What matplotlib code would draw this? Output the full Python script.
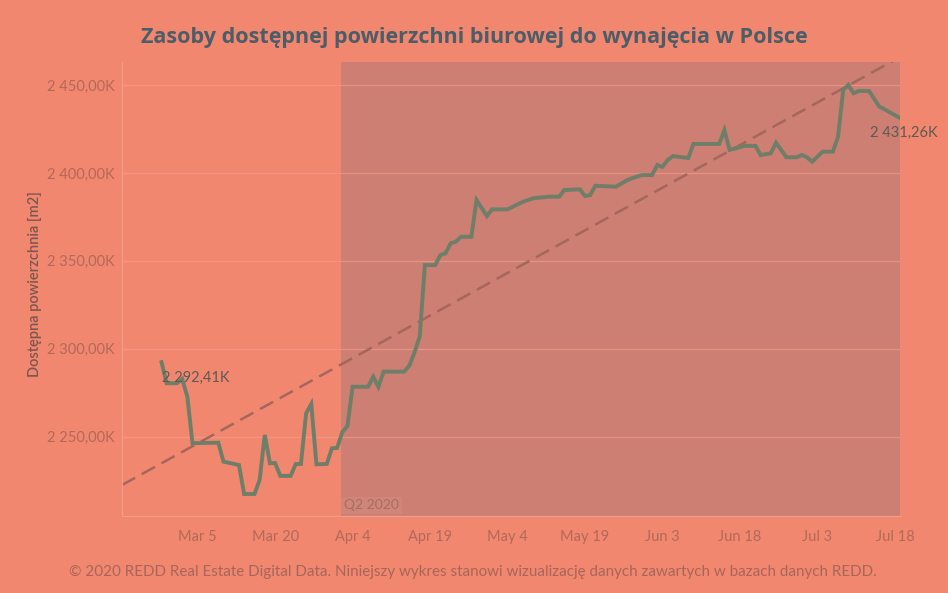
import matplotlib
matplotlib.use("Agg")
import matplotlib.pyplot as plt
import matplotlib.dates as mdates
import pandas as pd
import numpy as np

# ---- data (values in thousands of m2) ----
dates = ["2020-02-27", "2020-02-28", "2020-03-01", "2020-03-02", "2020-03-03", "2020-03-04",
         "2020-03-09", "2020-03-10", "2020-03-13", "2020-03-14", "2020-03-16", "2020-03-17",
         "2020-03-18", "2020-03-19", "2020-03-20", "2020-03-21", "2020-03-23", "2020-03-24",
         "2020-03-25", "2020-03-26", "2020-03-27", "2020-03-28", "2020-03-30", "2020-03-31",
         "2020-04-01", "2020-04-02", "2020-04-03", "2020-04-04", "2020-04-07", "2020-04-08",
         "2020-04-09", "2020-04-10", "2020-04-14", "2020-04-15", "2020-04-16", "2020-04-17",
         "2020-04-18", "2020-04-20", "2020-04-21", "2020-04-22", "2020-04-23", "2020-04-24",
         "2020-04-25", "2020-04-27", "2020-04-28", "2020-04-30", "2020-05-01", "2020-05-04",
         "2020-05-07", "2020-05-09", "2020-05-12", "2020-05-14", "2020-05-15", "2020-05-18",
         "2020-05-19", "2020-05-20", "2020-05-21", "2020-05-25", "2020-05-27", "2020-05-28",
         "2020-05-30", "2020-06-01", "2020-06-02", "2020-06-03", "2020-06-04", "2020-06-05",
         "2020-06-08", "2020-06-09", "2020-06-14", "2020-06-15", "2020-06-16", "2020-06-19",
         "2020-06-21", "2020-06-22", "2020-06-24", "2020-06-25", "2020-06-27", "2020-06-29",
         "2020-06-30", "2020-07-01", "2020-07-02", "2020-07-04", "2020-07-06", "2020-07-07",
         "2020-07-08", "2020-07-09", "2020-07-10", "2020-07-11", "2020-07-13", "2020-07-15",
         "2020-07-16", "2020-07-19"]
values = [2292.41, 2280.4, 2280.4, 2282.8, 2272.8, 2246.3,
          2246.6, 2235.8, 2233.9, 2217.4, 2217.4, 2225.4,
          2251.0, 2234.9, 2235.0, 2227.7, 2227.7, 2234.5,
          2234.5, 2263.3, 2268.6, 2234.3, 2234.5, 2243.4,
          2243.6, 2252.5, 2256.0, 2278.4, 2278.4, 2284.1,
          2278.4, 2287.0, 2287.0, 2290.5, 2298.0, 2307.0,
          2347.6, 2347.6, 2353.3, 2354.3, 2360.0, 2360.9,
          2363.7, 2363.7, 2384.6, 2375.5, 2379.3, 2379.3,
          2383.6, 2385.6, 2386.5, 2386.5, 2390.3, 2390.7,
          2386.9, 2387.4, 2392.7, 2392.2, 2395.6, 2396.9,
          2398.8, 2398.8, 2404.5, 2403.5, 2407.3, 2409.6,
          2408.5, 2416.5, 2416.5, 2424.4, 2413.1, 2415.4,
          2415.4, 2410.2, 2411.2, 2417.2, 2408.9, 2408.9,
          2410.2, 2408.9, 2406.4, 2412.1, 2412.1, 2420.6,
          2447.2, 2450.0, 2445.3, 2446.6, 2446.6, 2437.7,
          2436.2, 2431.26]

trend_dates = ["2020-03-05", "2020-07-18"]
trend_values = [2246.2, 2464.3]

y_ticks = [2250, 2300, 2350, 2400, 2450]
y_tick_labels = ["2 250,00K", "2 300,00K", "2 350,00K", "2 400,00K", "2 450,00K"]
x_ticks = ["2020-03-05", "2020-03-20", "2020-04-04", "2020-04-19", "2020-05-04",
           "2020-05-19", "2020-06-03", "2020-06-18", "2020-07-03", "2020-07-18"]
x_tick_labels = ["Mar 5", "Mar 20", "Apr 4", "Apr 19", "May 4",
                 "May 19", "Jun 3", "Jun 18", "Jul 3", "Jul 18"]

q2_start = "2020-04-01 18:00"
title = "Zasoby dostępnej powierzchni biurowej do wynajęcia w Polsce"
ylabel = "Dostępna powierzchnia [m2]"
footer = "© 2020 REDD Real Estate Digital Data. Niniejszy wykres stanowi wizualizację danych zawartych w bazach danych REDD."

# ---- styling ----
BG = "#F1876F"
SHADE = "#CC7F72"
LINE = "#6F7E68"
TREND = "#A5665D"
TICK = "#B4685A"
TITLE_C = "#4A5D68"
GRID = "#F49C8A"

plt.rcParams["font.family"] = ["Lato", "DejaVu Sans"]

fig = plt.figure(figsize=(9.48, 5.93), dpi=100, facecolor=BG)
ax = fig.add_axes([122 / 948, 1 - 516 / 593, (900 - 122) / 948, (516 - 62) / 593])
ax.set_facecolor(BG)

d = pd.to_datetime(dates)
xmin = pd.Timestamp("2020-03-05") - pd.Timedelta(days=14.65)
xmax = pd.Timestamp("2020-07-19")
ax.set_xlim(xmin, xmax)
ax.set_ylim(2204.9, 2463.1)

ax.axvspan(pd.Timestamp(q2_start), xmax, color=SHADE, zorder=0.2, lw=0)

for yt in y_ticks:
    ax.axhline(yt, color=GRID, lw=0.9, zorder=0.5, alpha=0.7)

# trend line across the full range
td = pd.to_datetime(trend_dates)
tnum = mdates.date2num(td)
slope = (trend_values[1] - trend_values[0]) / (tnum[1] - tnum[0])
xr = np.array([mdates.date2num(xmin), mdates.date2num(xmax)])
yr = trend_values[0] + slope * (xr - tnum[0])
ax.plot(mdates.num2date(xr), yr, color=TREND, lw=1.8, dashes=(6, 3), zorder=2)

ax.plot(d, values, color=LINE, lw=2.8, zorder=3, solid_joinstyle="miter")

ax.set_yticks(y_ticks)
ax.set_yticklabels(y_tick_labels)
ax.set_xticks(pd.to_datetime(x_ticks))
ax.set_xticklabels(x_tick_labels)
ax.tick_params(axis="both", length=0, colors=TICK, labelsize=10.5)
ax.tick_params(axis="y", pad=5)
ax.tick_params(axis="x", pad=10)

for s in ["top", "right"]:
    ax.spines[s].set_visible(False)
for s in ["left", "bottom"]:
    ax.spines[s].set_color(GRID)
    ax.spines[s].set_linewidth(0.8)

ax.set_ylabel(ylabel, color="#7E5650", fontsize=10.5, fontweight="semibold")
ax.yaxis.set_label_coords(-0.1025, 0.51)

# annotations
ax.annotate("2 292,41K", (d[0], values[0]), xytext=(0.5, -11.5), textcoords="offset points",
            ha="left", va="center", color="#5C5A56", fontsize=10.5, zorder=4)
ax.annotate("2 431,26K", (d[-1], values[-1]), xytext=(-21.6, -10.5), textcoords="offset points",
            ha="left", va="center", color="#5C5A56", fontsize=10.5, zorder=4)

ax.text(pd.Timestamp(q2_start) + pd.Timedelta(days=0.6), 2207.5, "Q2 2020", color="#A96D62",
        fontsize=10, ha="left", va="bottom", zorder=4,
        bbox=dict(boxstyle="square,pad=0.2", fc="#D0857A", ec="none"))

fig.text(0.5, 1 - 38 / 593, title, ha="center", va="center", color=TITLE_C,
         fontsize=15.5, fontweight="bold", family=["Open Sans", "DejaVu Sans"])
fig.text(0.4985, 1 - 572 / 593, footer, ha="center", va="center", color="#A8655A", fontsize=10.9)

fig.savefig("out.png", dpi=100, facecolor=BG)
